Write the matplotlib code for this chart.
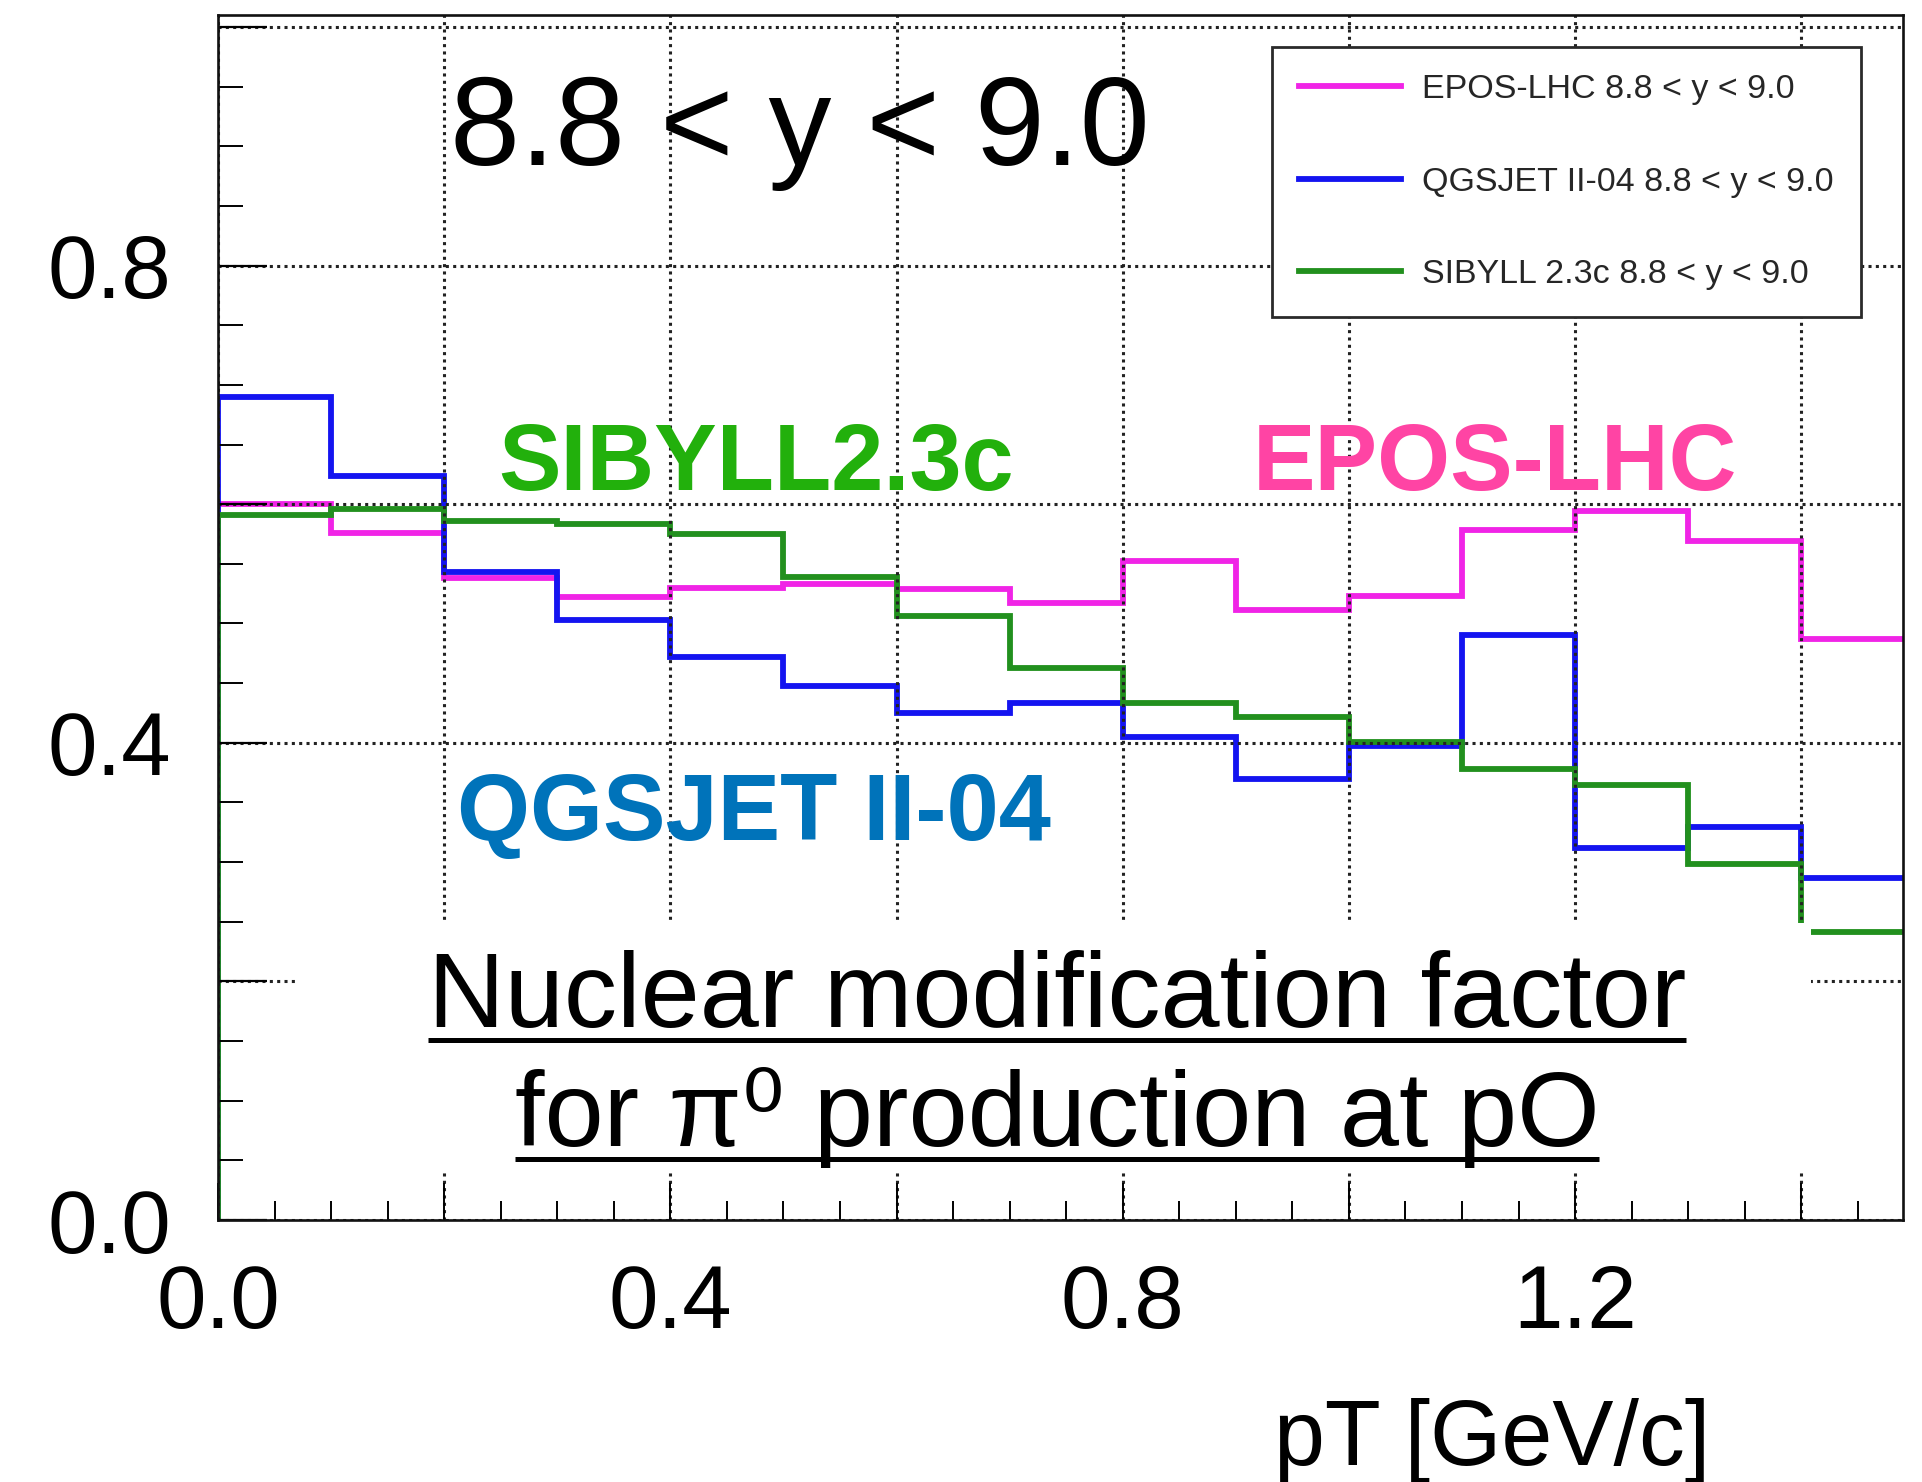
import matplotlib
matplotlib.use("Agg")
import numpy as np
import matplotlib.pyplot as plt
from matplotlib.ticker import FixedLocator, FixedFormatter, MultipleLocator
from matplotlib.patches import Rectangle
from matplotlib.lines import Line2D

plt.rcParams['font.family'] = ['Liberation Sans', 'DejaVu Sans']

# ---------------- data ----------------
bin_edges = [0.0, 0.1, 0.2, 0.3, 0.4, 0.5, 0.6, 0.7, 0.8, 0.9, 1.0, 1.1, 1.2, 1.3, 1.4, 1.5]
epos_lhc = [0.600, 0.576, 0.538, 0.522, 0.530, 0.533, 0.529, 0.517, 0.552, 0.511, 0.523, 0.578, 0.594, 0.569, 0.487]
qgsjet_ii04 = [0.690, 0.624, 0.543, 0.503, 0.472, 0.448, 0.425, 0.433, 0.405, 0.370, 0.397, 0.490, 0.312, 0.329, 0.287]
sibyll_23c = [0.591, 0.596, 0.586, 0.583, 0.575, 0.539, 0.506, 0.463, 0.433, 0.422, 0.401, 0.378, 0.365, 0.298, 0.241]

legend_labels = ["EPOS-LHC 8.8 < y < 9.0", "QGSJET II-04 8.8 < y < 9.0", "SIBYLL 2.3c 8.8 < y < 9.0"]

x_tick_values = [0.0, 0.2, 0.4, 0.6, 0.8, 1.0, 1.2, 1.4]
x_tick_labels = ["0.0", "", "0.4", "", "0.8", "", "1.2", ""]
y_tick_values = [0.0, 0.2, 0.4, 0.6, 0.8, 1.0]
y_tick_labels = ["0.0", "", "0.4", "", "0.8", ""]

# ---------------- figure ----------------
W, H = 1922, 1482
fig = plt.figure(figsize=(W / 100, H / 100), dpi=100)
ax = fig.add_axes([218 / W, 1 - 1220 / H, (1903 - 218) / W, (1220 - 15) / H])

c_epos = '#f024e6'
c_qgs = '#1414f0'
c_sib = '#22901e'
lw_hist = 4.2

ax.stairs(epos_lhc, bin_edges, baseline=0, color=c_epos, lw=lw_hist, zorder=1.2)
ax.stairs(qgsjet_ii04, bin_edges, baseline=0, color=c_qgs, lw=lw_hist, zorder=1.25)
ax.stairs(sibyll_23c, bin_edges, baseline=0, color=c_sib, lw=lw_hist, zorder=1.3)

ax.set_xlim(0, 1.49)
ax.set_ylim(0, 1.01)

ax.xaxis.set_major_locator(FixedLocator(x_tick_values))
ax.xaxis.set_major_formatter(FixedFormatter(x_tick_labels))
ax.xaxis.set_minor_locator(MultipleLocator(0.05))
ax.yaxis.set_major_locator(FixedLocator(y_tick_values))
ax.yaxis.set_major_formatter(FixedFormatter(y_tick_labels))
ax.yaxis.set_minor_locator(MultipleLocator(0.05))

ax.tick_params(axis='x', which='major', direction='in', length=27, width=1.4, labelsize=64, pad=31, colors='black')
ax.tick_params(axis='x', which='minor', direction='in', length=14, width=1.4)
ax.tick_params(axis='y', which='major', direction='in', length=35, width=1.6, labelsize=64, pad=34)
ax.tick_params(axis='y', which='minor', direction='in', length=18, width=1.4)

for s in ax.spines.values():
    s.set_linewidth(1.9)
    s.set_color('#111111')

ax.grid(True, which='major', color='#222222', linestyle=(0, (1, 1.4)), linewidth=2.2)

# legend
handles = [Line2D([], [], color=c, lw=lw_hist) for c in (c_epos, c_qgs, c_sib)]
leg = ax.legend(handles, legend_labels, loc='upper left',
                bbox_to_anchor=(0.6255, 0.750, 0.3495, 0.2234), mode='expand',
                borderaxespad=0, fontsize=24.5, handlelength=3.0, handletextpad=0.62,
                labelspacing=1.8, borderpad=0.8, fancybox=False, framealpha=1,
                labelcolor='#262626')
leg.get_frame().set_edgecolor('#2a2a2a')
leg.get_frame().set_linewidth(2.0)
leg.set_zorder(5)

# white box behind the caption
ax.add_patch(Rectangle((0.072, 0.039), 1.409 - 0.072, 0.249 - 0.039,
                       facecolor='white', edgecolor='none', zorder=4))

# annotations
ax.text(0.205, 0.884, "8.8 < y < 9.0", fontsize=90.5, color='black', va='baseline', ha='left', zorder=6)
ax.text(0.2475, 0.612, "SIBYLL2.3c", fontsize=67.5, fontweight='bold', color='#22b00c', va='baseline', ha='left', zorder=6)
ax.text(0.915, 0.612, "EPOS-LHC", fontsize=67.5, fontweight='bold', color='#ff44a4', va='baseline', ha='left', zorder=6)
ax.text(0.211, 0.3185, "QGSJET II-04", fontsize=67.5, fontweight='bold', color='#0073ba', va='baseline', ha='left', zorder=6)

cap_lines = [("Nuclear modification factor", 0.162), ("for \u03c0\u2070 production at pO", 0.062)]
cap_texts = []
for s, yb in cap_lines:
    t = ax.text(0.742, yb, s, fontsize=76.5, color='black', va='baseline', ha='center', zorder=6)
    cap_texts.append((t, yb))

fig.text(1492 / W, 1 - 1465 / H, "pT [GeV/c]", fontsize=66, color='black', ha='center', va='baseline')

# underlines
fig.canvas.draw()
r = fig.canvas.get_renderer()
for t, yb in cap_texts:
    bb = t.get_window_extent(r)
    base_px = ax.transData.transform((0, yb))[1]
    uy = base_px - 13
    fig.add_artist(Line2D([bb.x0 / W, bb.x1 / W], [uy / H, uy / H], transform=fig.transFigure,
                          color='black', lw=3.6, solid_capstyle='butt', zorder=7))

fig.savefig("out.png", dpi=100)
